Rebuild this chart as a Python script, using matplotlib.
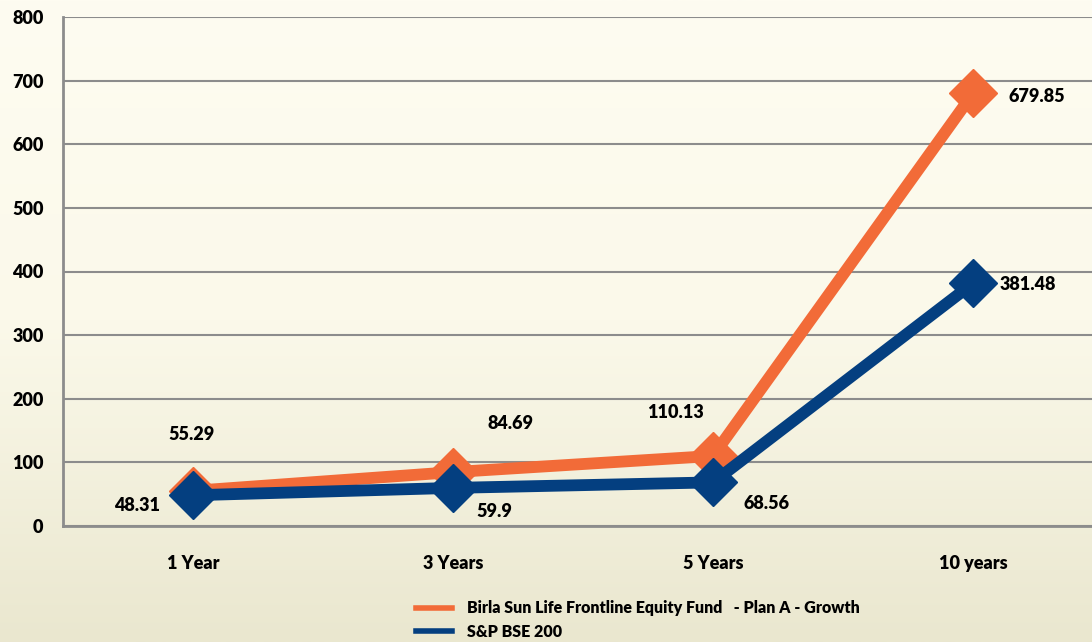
import numpy as np
import matplotlib.pyplot as plt
from matplotlib.colors import LinearSegmentedColormap

# dades
categories = ['1 Year', '3 Years', '5 Years', '10 years']
fund = [55.29, 84.69, 110.13, 679.85]
bse = [48.31, 59.9, 68.56, 381.48]
fund_label = 'Birla Sun Life Frontline Equity Fund   - Plan A - Growth'
bse_label = 'S&P BSE 200'

ORANGE = '#F26B38'
BLUE = '#043F80'
GRID = '#8C8C8C'

plt.rcParams['font.family'] = ['Lato', 'DejaVu Sans']
plt.rcParams['font.weight'] = 'heavy'
WT = 'heavy'

fig = plt.figure(figsize=(10.92, 6.42), dpi=100)

# fons amb degradat
bg = fig.add_axes([0, 0, 1, 1], zorder=-10)
cmap = LinearSegmentedColormap.from_list('bg', ['#FEFCF1', '#FBF9EA', '#EAE7CF'])
grad = np.linspace(0, 1, 256).reshape(-1, 1)
bg.imshow(grad, aspect='auto', cmap=cmap, extent=[0, 1, 0, 1], origin='upper')
bg.axis('off')

W, H = 1092, 642
ax = fig.add_axes([63 / W, (H - 526) / H, (1103 - 63) / W, (526 - 17) / H])
ax.patch.set_alpha(0)

x = np.arange(len(categories))
ax.plot(x, fund, color=ORANGE, lw=8.5, marker='D', ms=24, solid_joinstyle='miter',
        label=fund_label, zorder=3)
ax.plot(x, bse, color=BLUE, lw=8.5, marker='D', ms=24, solid_joinstyle='miter',
        label=bse_label, zorder=4)

ax.set_xlim(-0.5, 3.5)
ax.set_ylim(0, 800)
ax.set_yticks(range(0, 801, 100))
ax.set_xticks(x)
ax.set_xticklabels(categories, fontweight=WT)
for t in ax.get_yticklabels():
    t.set_fontweight(WT)
ax.tick_params(axis='both', length=0, labelsize=13, colors='black')
ax.tick_params(axis='y', pad=14)
ax.tick_params(axis='x', pad=21)
ax.yaxis.grid(True, color=GRID, lw=1.5)
ax.set_axisbelow(True)
for s in ['top', 'right']:
    ax.spines[s].set_visible(False)
for s in ['left', 'bottom']:
    ax.spines[s].set_color(GRID)
    ax.spines[s].set_linewidth(2)

# etiquetes de valors
fund_off = [(-1, 56), (57, 49), (-38, 43), (64, -3)]
bse_off = [(-56, -10), (41, -24), (54, -21), (55, -1)]
for i, v in enumerate(fund):
    ax.annotate(f'{v:g}', (x[i], v), xytext=fund_off[i], textcoords='offset pixels',
                ha='center', va='center', fontsize=13, fontweight=WT)
for i, v in enumerate(bse):
    ax.annotate(f'{v:g}', (x[i], v), xytext=bse_off[i], textcoords='offset pixels',
                ha='center', va='center', fontsize=13, fontweight=WT)

handles = [plt.Line2D([], [], color=ORANGE, lw=4),
           plt.Line2D([], [], color=BLUE, lw=4)]
fig.legend(handles, [fund_label, bse_label], loc='upper left',
           bbox_to_anchor=(402 / W, 1 - 586 / H), frameon=False,
           prop={'size': 11.5, 'weight': WT},
           handlelength=2.2, labelspacing=0.45, handletextpad=1.0)

fig.savefig('out.png', dpi=100)
